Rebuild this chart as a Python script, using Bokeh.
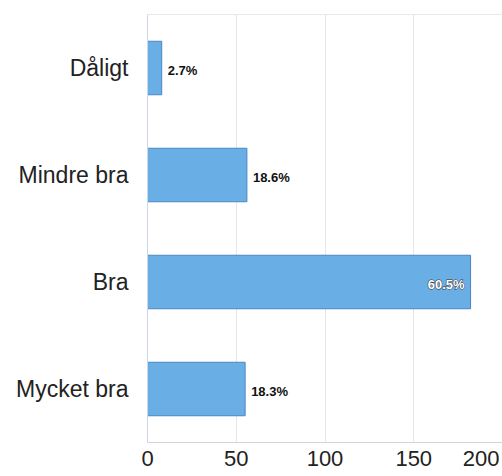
from bokeh.plotting import figure
from bokeh.models import ColumnDataSource, FixedTicker, Span
from bokeh.embed import file_html
from bokeh.resources import INLINE
from bokeh.core.properties import value

categories = ["Dåligt", "Mindre bra", "Bra", "Mycket bra"]
counts = [8, 56, 182, 55]
percent_labels = ["2.7%", "18.6%", "60.5%", "18.3%"]
x_ticks = [0, 50, 100, 150, 200]
x_max = 200

FONT = "Liberation Sans"

p = figure(
    y_range=list(reversed(categories)),
    x_range=(0, x_max),
    width=502, height=476,
    min_border_left=147, min_border_right=0, min_border_top=14, min_border_bottom=34,
    output_backend="svg", toolbar_location=None,
)
p.outline_line_color = None
p.background_fill_color = "white"

src = ColumnDataSource(dict(cat=categories, val=counts, lab=percent_labels))
p.hbar(y="cat", right="val", left=0, height=0.5, source=src,
       fill_color="#6aaee6", line_color="#4a86c4", line_width=1)

# data labels: outside for short bars, inside for the long one
out_idx = [i for i, v in enumerate(counts) if v / x_max <= 0.8]
in_idx = [i for i, v in enumerate(counts) if v / x_max > 0.8]
src_out = ColumnDataSource(dict(cat=[categories[i] for i in out_idx], val=[counts[i] for i in out_idx],
                                lab=[percent_labels[i] for i in out_idx]))
src_in = ColumnDataSource(dict(cat=[categories[i] for i in in_idx], val=[counts[i] for i in in_idx],
                               lab=[percent_labels[i] for i in in_idx]))
p.text(x="val", y="cat", text="lab", source=src_out, x_offset=6, y_offset=2,
       text_font=value(FONT), text_font_size="13px", text_font_style="bold",
       text_color="#111111", text_align="left", text_baseline="middle")
for outline in ("#333333", None):
    p.text(x="val", y="cat", text="lab", source=src_in, x_offset=-6, y_offset=2,
           text_font=value(FONT), text_font_size="13px", text_font_style="bold",
           text_color="white", text_outline_color=outline,
           text_align="right", text_baseline="middle")

# top border
p.add_layout(Span(location=len(categories), dimension="width", line_color="#d4d4d4", line_width=1))

# x axis: last label pulled inside the visible area
label_ticks = x_ticks[:-1] + [x_max * 0.94]
p.xaxis.ticker = FixedTicker(ticks=label_ticks)
p.xaxis.major_label_overrides = {x_max * 0.94: str(x_ticks[-1])}
p.xaxis.major_tick_line_color = None
p.xaxis.major_tick_out = 0
p.xaxis.major_tick_in = 0
p.xaxis.minor_tick_line_color = None
p.xaxis.axis_line_color = "#d4d4d4"
p.xaxis.major_label_text_font = FONT
p.xaxis.major_label_text_font_size = "22px"
p.xaxis.major_label_text_color = "#222222"
p.xaxis.major_label_standoff = 8
p.xgrid.grid_line_color = "#e6e6e6"
p.xgrid.ticker = FixedTicker(ticks=x_ticks)

# y axis
p.yaxis.major_tick_line_color = None
p.yaxis.major_tick_out = 0
p.yaxis.major_tick_in = 0
p.yaxis.minor_tick_line_color = None
p.yaxis.axis_line_color = "#ccd6eb"
p.yaxis.major_label_text_font = FONT
p.yaxis.major_label_text_font_size = "23px"
p.yaxis.major_label_text_color = "#222222"
p.yaxis.major_label_standoff = 19
p.ygrid.grid_line_color = None

open("out.html", "w").write(file_html(p, INLINE))
